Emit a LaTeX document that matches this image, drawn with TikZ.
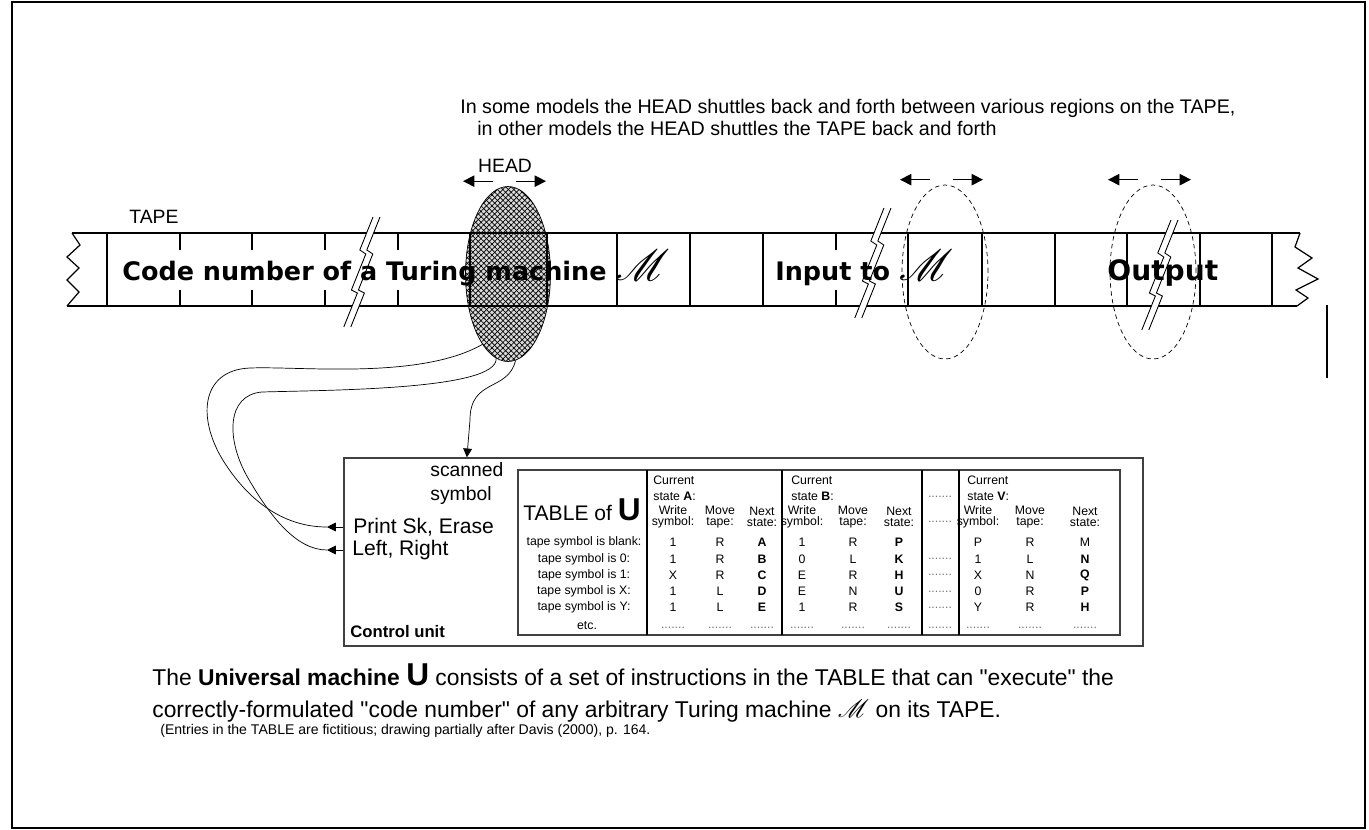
\documentclass[tikz,border=0pt]{standalone}
\usepackage{fontspec}
\setmainfont{Liberation Sans}
\newfontfamily\tapefont{DejaVu Sans}
\usepackage{mathrsfs}
\usetikzlibrary{shapes,arrows.meta,patterns.meta}

\tikzset{
  txt/.style={inner sep=0pt},
  tapetext/.style={txt,anchor=base west,font=\fontsize{14.5}{17}\tapefont\bfseries},
  captext/.style={txt,anchor=base west,font=\fontsize{13}{15}\selectfont},
  tbl/.style={txt,font=\fontsize{7}{6.5}\selectfont},
  tbldots/.style={tbl,text=black!55},
  tape/.style={line width=0.7pt},
  shuttle/.style={-{Triangle[length=6.5pt,width=6.5pt]},line width=0.6pt},
  ctrlarrow/.style={-{Triangle[length=5pt,width=5pt]}},
  ghosthead/.style={ellipse,draw,dash pattern=on 2.5pt off 2pt,minimum width=1.72cm,minimum height=3.48cm},
}
\newcommand{\bigM}[1]{{\fontsize{#1}{#1}\selectfont$\mathscr{M}$}}

\begin{document}
\begin{tikzpicture}[x=0.02cm,y=-0.02cm]
  \path[use as bounding box] (0,0) rectangle (1369,829);
  \draw[line width=0.8pt] (12,2) rectangle (1365,828);

  % the head and the two other places it may sit
  \node[ellipse,draw,minimum width=1.7cm,minimum height=3.5cm,preaction={fill=gray!30},
        pattern={Lines[angle=45,distance=2.2pt,line width=.4pt]},
        postaction={pattern={Lines[angle=-45,distance=2.2pt,line width=.4pt]}}] (head) at (508,274) {};
  \node[ghosthead] (inhead) at (945,272) {};
  \node[ghosthead] (outhead) at (1153,272) {};

  % tape
  \draw[tape] (72,233) -- (1300,233);
  \draw[tape] (67,306) -- (1297,306);
  \draw[tape] (72,233) -- (80,245) -- (67,257) -- (79,268) -- (67,280) -- (79,292) -- (67,306);
  \draw[tape] (1300,233) -- (1295,247) -- (1312,258) -- (1298,268) -- (1318,279) -- (1296,290) -- (1308,298) -- (1297,306);
  \foreach \x in {107,470,547,617,690,763,908,982,1055,1127,1200,1272}
    \draw[tape] (\x,233) -- (\x,306);
  \foreach \x in {180,252,325,398,836} {
    \draw[tape] (\x,233) -- (\x,250);
    \draw[tape] (\x,290) -- (\x,306);
  }

  % breaks in the tape
  \foreach \bx/\by in {357/272,868/263,1155/275}
    \fill[white,shift={(\bx,\by)}] (16,-55) -- (2.8,-22) -- (8.8,-18) -- (-5.6,18) -- (0.4,21) -- (-13.2,55)
      -- (-6.2,55) -- (7.4,21) -- (1.4,18) -- (15.8,-18) -- (9.8,-22) -- (23,-55) -- cycle;

  \node[tapetext] (code) at (122,280) {Code number of a Turing machine \mdseries\bigM{26}};
  \node[tapetext] (input) at (775,280) {Input to \mdseries\bigM{26}};
  \node[tapetext,font=\fontsize{16}{18}\tapefont\bfseries] (output) at (1107,280) {Output};

  \foreach \bx/\by in {357/272,868/263,1155/275} {
    \draw[line width=0.5pt,shift={(\bx,\by)}] (16,-55) -- (2.8,-22) -- (8.8,-18) -- (-5.6,18) -- (0.4,21) -- (-13.2,55);
    \draw[line width=0.5pt,shift={(\bx,\by)}] (23,-55) -- (9.8,-22) -- (15.8,-18) -- (1.4,18) -- (7.4,21) -- (-6.2,55);
  }

  \node[txt,font=\fontsize{11}{13}\selectfont] (tapelabel) at (154,217) {TAPE};
  \node[txt,font=\fontsize{11}{13}\selectfont] (headlabel) at (505,166) {HEAD};
  \node[txt,anchor=west,font=\fontsize{11.2}{13}\selectfont] (note1) at (460,108)
    {In some models the HEAD shuttles back and forth between various regions on the TAPE,};
  \node[txt,anchor=west,font=\fontsize{11.2}{13}\selectfont] (note2) at (477,128)
    {in other models the HEAD shuttles the TAPE back and forth};

  \foreach \h in {head,inhead,outhead} {
    \draw[shuttle] ([shift={(-15,-5)}]\h.north) -- ++(-30,0);
    \draw[shuttle] ([shift={(8,-5)}]\h.north) -- ++(30,0);
  }
  \draw[line width=0.8pt] (1327,305) -- (1327,378);

  % control unit
  \node[draw=black!75,line width=0.8pt,minimum width=15.98cm,minimum height=3.76cm] (ctrl) at (743.5,552) {};
  \node[txt,anchor=north west,align=left,font=\fontsize{11}{14}\selectfont] (scan) at (430,462) {scanned\\symbol};
  \node[txt,anchor=west,font=\fontsize{12}{14}\selectfont] (print) at (353,527) {Print Sk, Erase};
  \node[txt,anchor=west,font=\fontsize{12}{14}\selectfont] (lr) at (352,550) {Left, Right};
  \node[txt,anchor=west,font=\fontsize{9.5}{11}\selectfont\bfseries] (ctrllabel) at (350,632) {Control unit};

  \coordinate (printtip) at (327,527);
  \coordinate (lrtip) at (327,550);
  \draw (head.250) .. controls (420,380) and (300,366) .. (250,368)
    .. controls (200,370) and (196,420) .. (226,465) .. controls (256,510) and (292,527) .. (printtip);
  \draw (head.262) .. controls (498,390) and (330,390) .. (262,392)
    .. controls (226,395) and (226,440) .. (248,478) .. controls (270,516) and (296,550) .. (lrtip);
  \draw[ctrlarrow] (ctrl.west |- print) -- (printtip);
  \draw[ctrlarrow] (ctrl.west |- lr) -- (lrtip);
  \draw[ctrlarrow] (head.275) .. controls (508,392) and (470,378) .. (470,420) -- (scan.north |- ctrl.north);

  % table of U
  \draw[line width=0.8pt,draw=black!75] (518,470) rectangle (1120,635);
  \foreach \x in {647,782,922,959}
    \draw[line width=0.6pt] (\x,470) -- (\x,635);
  \node[txt,anchor=west,font=\fontsize{12}{14}\selectfont] (tbltitle) at (523,510)
    {TABLE of {\fontsize{18}{18}\selectfont\bfseries U}};

  \foreach \x/\s in {653/A,791/B,967/V} {
    \node[tbl,anchor=west] (cur-\s) at (\x,480) {Current};
    \node[tbl,anchor=west] (state-\s) at (\x,496) {state \textbf{\s}:};
  }
  \foreach \x in {673,802,978}
    \node[tbl,align=center] (wr-\x) at (\x,517) {Write\\symbol:};
  \foreach \x in {720,853,1030}
    \node[tbl,align=center] (mv-\x) at (\x,517) {Move\\tape:};
  \foreach \x in {762,899,1085}
    \node[tbl,align=center] (nx-\x) at (\x,517) {Next\\state:};

  \foreach \y/\lab/\wa/\ma/\na/\wb/\mb/\nb/\wv/\mv/\nv in {
      542/blank/1/R/A/1/R/P/P/R/{\mdseries M},
      559/0/1/R/B/0/L/K/1/L/N,
      575/1/X/R/C/E/R/H/X/N/Q,
      591/X/1/L/D/E/N/U/0/R/P,
      607/Y/1/L/E/1/R/S/Y/R/H} {
    \node[tbl] (lab-\y) at (584,\y) {tape symbol is \lab:};
    \node[tbl] (wa-\y) at (673,\y) {\wa};
    \node[tbl] (ma-\y) at (720,\y) {\ma};
    \node[tbl,font=\fontsize{7}{6.5}\selectfont\bfseries] (na-\y) at (762,\y) {\na};
    \node[tbl] (wb-\y) at (802,\y) {\wb};
    \node[tbl] (mb-\y) at (853,\y) {\mb};
    \node[tbl,font=\fontsize{7}{6.5}\selectfont\bfseries] (nb-\y) at (899,\y) {\nb};
    \node[tbl] (wv-\y) at (978,\y) {\wv};
    \node[tbl] (mv-\y) at (1030,\y) {\mv};
    \node[tbl,font=\fontsize{7}{6.5}\selectfont\bfseries] (nv-\y) at (1085,\y) {\nv};
  }
  \node[tbl] (etc) at (587,626) {etc.};
  \foreach \x in {673,720,762,802,853,899,978,1030,1085}
    \node[tbldots] (dots-\x) at (\x,628) {.......};
  \foreach \y in {497,522,559,575,592,608,628}
    \node[tbldots] (gap-\y) at (940,\y) {.......};

  % caption
  \node[captext] (cap1) at (152,685)
    {The \textbf{Universal machine} {\fontsize{18}{18}\selectfont\bfseries U} consists of a set of instructions in the TABLE that can \textquotedbl execute\textquotedbl\ the};
  \node[captext] (cap2) at (152,717)
    {correctly-formulated \textquotedbl code number\textquotedbl\ of any arbitrary Turing machine \bigM{15} on its TAPE.};
  \node[captext,font=\fontsize{8}{9}\selectfont] (cap3) at (160,734)
    {(Entries in the TABLE are fictitious; drawing partially after Davis (2000), p. 164.};
\end{tikzpicture}
\end{document}
